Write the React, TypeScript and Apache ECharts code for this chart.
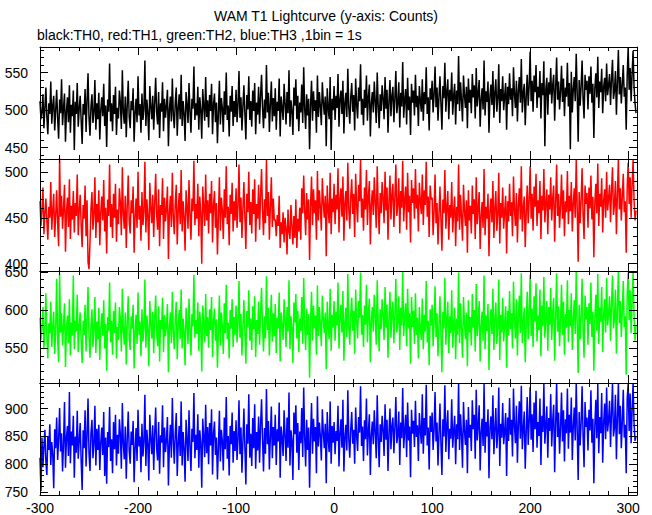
import React, { useEffect, useRef } from "react";
import * as echarts from "echarts";

// Bin start time (s) of the first bin; 1 bin = 1 s
const START_TIME = -300;

// TH0 (black) counts per bin
const TH0 = [
  512,488,497,521,476,503,530,491,468,509,495,538,482,506,519,473,500,527,489,462,
  514,496,541,480,503,522,458,499,517,484,533,470,507,492,526,447,511,495,536,478,
  502,519,486,455,508,494,528,471,513,549,490,466,505,521,483,497,540,474,509,488,
  523,461,500,517,492,535,479,506,451,514,498,562,485,509,472,520,495,531,467,503,
  489,526,510,475,553,497,482,518,464,507,539,491,476,512,500,529,458,496,515,484,
  545,493,508,470,522,487,501,566,479,514,496,460,532,505,488,519,474,510,543,497,
  481,524,463,509,498,537,472,515,490,506,527,452,501,518,485,542,494,476,511,530,
  466,503,521,488,547,479,512,495,459,524,507,483,536,498,470,515,502,558,487,509,
  493,531,474,517,500,462,528,505,486,544,491,513,477,520,499,535,468,508,522,484,
  510,456,497,539,481,516,503,471,525,494,550,487,506,465,519,498,532,479,512,491,
  527,484,508,552,490,517,473,505,533,496,461,520,501,545,487,512,478,526,499,536,
  468,510,494,531,482,519,547,503,476,514,489,560,497,523,471,508,538,485,516,492,
  529,474,511,499,542,465,518,503,487,535,509,481,524,496,553,478,513,500,467,530,
  506,541,488,519,472,510,497,534,483,557,502,475,521,493,515,448,507,539,486,525,
  499,513,470,546,491,524,505,480,537,511,494,518,452,529,503,488,544,447,515,500,
  532,487,519,503,548,478,514,526,495,539,469,510,523,491,555,504,482,517,536,498,
  520,473,542,507,489,530,512,561,494,515,480,527,503,546,486,518,534,465,509,524,
  497,538,511,483,550,506,476,521,499,533,515,488,544,502,527,470,512,540,492,519,
  531,484,516,552,496,509,537,477,523,505,564,490,514,528,481,543,500,518,467,535,
  510,526,493,547,504,519,479,532,512,498,541,486,524,508,557,495,517,473,529,514,
  539,497,521,558,504,530,486,517,545,509,474,532,516,563,498,524,541,488,527,512,
  550,494,519,535,481,526,508,572,499,537,513,485,546,520,503,531,476,542,510,527,
  496,548,517,533,489,556,505,522,540,478,514,529,501,566,493,525,511,538,470,519,
  534,507,552,490,523,541,498,516,561,483,528,512,545,500,519,536,474,531,508,549,
  514,529,492,557,521,503,539,485,526,544,510,568,497,523,535,480,518,547,506,532,
  578,512,539,498,546,524,560,503,531,517,552,489,536,520,565,452,528,543,494,537,
  521,556,509,533,547,486,529,570,514,538,501,525,559,511,542,492,530,518,563,505,
  536,448,551,497,528,544,512,575,523,458,540,506,532,566,515,489,547,527,539,501,
  545,522,558,510,535,463,529,549,517,571,503,538,524,555,496,531,543,512,562,520,
  533,548,507,541,567,515,526,552,494,537,580,521,544,509,535,560,518,530,474,546,
  583,527,556,512,548,579,531,509,496,
];

// TH1 (red) counts per bin
const TH1 = [
  468,441,459,483,432,455,471,447,426,462,450,489,437,458,476,429,453,480,444,419,
  515,451,474,438,460,486,413,457,472,440,492,427,463,448,479,434,466,452,497,431,
  458,475,442,418,464,449,485,430,469,402,394,423,460,478,437,454,494,428,465,445,
  480,420,456,473,447,491,435,461,411,470,452,508,440,465,428,476,450,487,424,459,
  443,482,466,431,505,454,438,474,417,463,496,446,433,469,455,484,412,451,471,439,
  500,448,463,425,478,442,457,511,434,470,452,415,488,461,444,475,429,466,498,453,
  437,481,419,464,453,493,427,472,446,460,484,405,456,474,440,499,450,432,467,486,
  421,458,477,443,502,435,468,451,414,480,462,438,491,454,426,471,457,512,442,465,
  449,487,430,473,455,400,484,461,441,497,447,469,433,476,455,490,423,464,479,439,
  466,410,452,494,436,472,458,427,481,450,506,443,462,420,475,454,488,435,468,447,
  482,439,463,508,445,472,428,460,489,451,416,476,456,500,442,467,433,481,454,492,
  424,465,449,486,437,474,503,458,431,470,444,513,452,478,426,463,494,440,471,447,
  448,430,453,441,474,417,445,432,456,423,450,438,410,459,435,427,464,442,421,452,
  428,470,417,449,435,461,426,482,455,496,458,431,477,448,470,404,463,495,442,481,
  455,469,426,501,447,480,461,436,493,467,450,474,408,485,459,444,499,432,471,456,
  487,443,475,459,504,434,470,482,451,495,425,466,479,447,510,460,438,473,492,454,
  476,429,498,463,445,486,468,514,450,471,436,483,459,502,442,474,490,421,465,480,
  453,494,467,439,506,462,432,477,455,489,471,444,500,458,483,426,468,496,448,475,
  487,440,472,508,452,465,493,433,479,461,512,446,470,484,437,499,456,474,423,491,
  466,482,449,503,460,475,435,488,468,454,497,442,480,464,511,451,473,429,485,470,
  472,431,458,497,444,466,421,453,484,448,414,470,455,502,438,461,479,426,464,450,
  489,434,457,473,419,462,446,508,437,475,451,425,486,458,441,469,412,480,447,463,
  433,485,454,470,427,494,443,460,478,416,452,467,439,503,431,462,449,476,408,457,
  471,445,490,428,461,479,436,454,499,422,466,450,483,438,457,474,411,468,446,487,
  452,467,430,495,459,441,477,423,464,482,448,506,435,461,473,418,456,485,444,470,
  506,449,476,436,484,462,498,441,469,455,490,427,474,458,503,445,466,481,432,475,
  459,494,447,471,485,424,467,508,452,476,439,463,497,449,480,430,468,456,501,443,
  474,457,489,435,466,482,450,513,461,402,478,444,470,504,453,427,485,465,477,439,
  483,460,496,448,473,407,467,487,455,509,441,476,462,493,434,469,481,450,500,458,
  471,486,445,479,505,453,464,490,432,475,514,459,482,447,473,498,456,468,412,484,
  510,465,494,450,486,513,469,447,458,
];

// TH2 (green) counts per bin
const TH2 = [
  590,561,578,604,549,575,622,566,537,583,570,611,552,579,598,543,573,641,563,532,
  648,571,596,554,580,609,526,577,593,557,614,541,584,567,645,549,586,572,620,545,
  579,597,560,531,586,568,607,546,590,630,565,538,581,601,552,575,617,544,585,562,
  603,535,576,596,567,613,550,582,521,591,573,636,558,586,542,599,570,610,537,578,
  561,604,588,546,628,574,555,597,529,584,618,565,548,592,576,607,524,571,594,556,
  623,568,585,540,601,559,577,640,551,593,574,527,612,583,563,598,544,589,619,572,
  553,605,533,587,575,616,545,594,566,581,608,519,578,597,557,624,571,549,590,611,
  536,580,600,562,627,550,589,572,528,603,584,556,615,576,541,595,579,646,564,587,
  569,610,547,598,577,520,606,582,558,621,566,591,551,601,574,617,539,586,602,560,
  588,525,573,619,554,597,580,543,609,570,633,562,584,537,600,576,614,552,591,568,
  606,558,583,638,564,595,541,579,613,571,530,599,577,626,560,589,548,605,575,618,
  539,587,569,611,555,598,629,580,546,592,563,644,574,603,541,584,620,559,596,566,
  608,544,590,576,623,533,597,581,561,614,586,552,604,572,639,549,592,578,531,610,
  584,621,563,599,545,589,573,617,556,642,579,548,602,568,595,512,585,624,560,606,
  576,593,542,632,566,604,581,553,619,588,570,597,523,611,579,562,628,547,594,577,
  612,560,598,580,636,550,591,607,571,625,534,584,603,565,647,578,555,595,616,573,
  599,543,627,585,563,612,590,649,568,594,552,606,581,633,558,597,615,532,586,604,
  572,620,591,555,639,583,546,601,575,614,593,561,630,577,607,538,589,624,564,598,
  611,557,595,641,571,585,618,548,603,580,650,566,592,609,553,628,576,596,530,617,
  578,599,556,622,568,590,537,604,575,561,615,549,594,572,638,558,586,528,601,580,
  607,553,584,631,565,596,540,579,618,567,519,598,576,642,555,587,611,544,592,570,
  626,551,581,603,536,589,568,649,557,609,574,538,617,583,562,597,527,613,571,591,
  554,621,577,600,546,634,566,586,612,533,579,598,560,645,549,593,573,608,522,582,
  601,569,628,548,587,610,556,578,640,535,594,571,616,559,583,605,525,599,567,625,
  575,596,550,637,588,563,614,541,592,619,570,648,557,585,603,532,580,624,562,597,
  646,566,602,552,618,585,635,559,593,574,627,540,606,579,643,564,589,612,547,604,
  581,629,561,597,616,534,590,648,572,605,553,586,633,568,611,542,595,577,639,558,
  600,579,622,548,587,613,569,650,583,518,607,562,594,641,574,538,619,588,604,555,
  609,582,636,565,598,521,590,620,573,647,556,603,585,630,545,594,614,571,642,580,
  596,618,560,608,645,576,589,627,543,601,651,583,612,565,599,638,578,592,516,620,
  649,587,626,570,611,650,593,560,580,
];

// TH3 (blue) counts per bin
const TH3 = [
  812,752,848,795,833,862,804,781,851,826,872,799,840,818,757,863,829,884,808,845,
  901,823,856,787,838,912,794,847,869,815,930,802,859,834,887,776,850,821,896,810,
  843,874,805,754,861,829,897,796,852,918,820,788,857,880,811,836,905,798,864,826,
  871,790,839,866,817,894,779,848,765,858,831,903,806,845,784,876,827,889,798,853,
  819,881,854,792,910,837,809,868,774,846,895,824,801,859,835,878,768,829,865,806,
  898,832,850,786,873,814,841,925,797,862,836,771,889,847,818,870,790,855,902,828,
  807,876,783,852,839,906,795,866,822,844,885,762,835,871,812,919,843,801,857,892,
  779,837,869,815,913,798,858,829,769,880,845,806,897,833,788,864,840,928,811,853,
  826,890,794,861,838,758,882,849,813,907,820,867,800,874,834,899,782,856,877,817,
  848,773,831,896,805,862,842,789,884,827,921,810,851,780,869,836,893,803,860,824,
  879,808,846,915,818,866,785,840,900,831,764,872,837,926,812,855,797,883,829,908,
  792,858,825,886,803,870,917,844,787,865,819,935,836,878,791,850,904,811,867,834,
  889,799,863,841,911,776,868,847,815,897,852,806,884,830,929,798,861,843,772,893,
  854,906,821,874,790,859,838,901,813,938,849,796,880,826,866,758,853,910,819,882,
  841,867,784,922,832,875,851,807,899,858,829,873,766,894,845,822,913,801,869,839,
  876,818,860,842,905,796,855,881,830,916,787,848,871,825,933,846,812,864,894,837,
  862,801,902,851,824,885,857,940,833,868,806,879,845,918,816,860,890,781,853,877,
  836,897,858,811,924,849,795,872,840,887,861,815,908,844,880,788,857,900,827,869,
  884,820,866,921,838,852,895,799,875,847,937,829,860,889,813,911,843,868,777,898,
  855,878,831,914,849,870,806,892,861,837,926,819,883,852,943,834,866,791,887,858,
  893,826,862,930,841,875,798,855,909,838,781,881,850,942,822,869,897,809,864,846,
  917,830,859,887,800,872,845,945,826,890,853,794,912,861,835,880,784,903,848,871,
  824,915,863,889,810,934,843,870,906,789,857,882,833,944,821,876,850,899,775,866,
  886,845,924,818,862,901,829,856,938,797,873,848,910,836,860,892,779,884,842,919,
  853,880,814,936,869,838,905,803,874,913,846,941,827,864,895,792,858,921,835,877,
  939,844,890,822,911,863,932,830,876,851,918,799,887,858,944,837,869,904,812,883,
  860,926,832,878,907,786,871,945,849,893,819,866,929,841,897,805,881,856,936,828,
  889,857,920,808,868,902,843,946,862,772,894,834,876,940,852,795,912,867,884,825,
  898,861,933,839,882,766,870,916,847,944,820,885,856,928,803,874,909,845,938,859,
  879,914,831,892,945,850,866,925,809,883,946,854,905,829,877,934,848,871,784,918,
  944,860,927,838,896,946,874,842,851,
];

// Axis ranges and tick labels
const X_MIN = -300;
const X_MAX = 309;
const X_TICKS = [-300, -200, -100, 0, 100, 200, 300];
const Y_RANGES = [
  [435, 584],
  [392, 514],
  [505, 651],
  [745, 946],
];
const Y_TICKS = [
  [450, 500, 550],
  [400, 450, 500],
  [550, 600, 650],
  [750, 800, 850, 900],
];
const SERIES_NAMES = ["TH0", "TH1", "TH2", "TH3"];
const SERIES_DATA = [TH0, TH1, TH2, TH3];
const COLORS = ["#000000", "#ff0000", "#00ff00", "#0000ff"];

const TITLE = "WAM T1 Lightcurve (y-axis: Counts)";
const SUBTITLE = "black:TH0, red:TH1, green:TH2, blue:TH3 ,1bin = 1s";

const FONT = "'Liberation Sans', Arial, Helvetica, sans-serif";

function minorValues(min: number, max: number, step: number, majors: number[]) {
  const out: number[] = [];
  const start = Math.ceil(min / step) * step;
  for (let v = start; v <= max; v += step) {
    if (!majors.includes(v)) out.push(v);
  }
  return out;
}

export default function App() {
  const ref = useRef<HTMLDivElement>(null);

  useEffect(() => {
    document.body.style.margin = "0";
    if (!ref.current) return;
    const chart = echarts.init(ref.current, undefined, { renderer: "svg" });

    const left = 40;
    const width = 597;
    const top0 = 47;
    const h = 112;

    const grids: any[] = [];
    const xAxes: any[] = [];
    const yAxes: any[] = [];
    const series: any[] = [];

    const xMinor = minorValues(X_MIN, X_MAX, 20, X_TICKS);
    const black = { color: "#000000", width: 1 };

    for (let k = 0; k < 4; k++) {
      grids.push({ left, width, top: top0 + k * h, height: h, show: false });
      const [ymin, ymax] = Y_RANGES[k];
      const yMinor = minorValues(ymin, ymax, 10, Y_TICKS[k]);

      const xBase = (position: string, major: boolean, showLine: boolean, showLabel: boolean) => ({
        type: "value",
        gridIndex: k,
        position,
        min: X_MIN,
        max: X_MAX,
        axisLine: { show: showLine, onZero: false, lineStyle: black },
        axisTick: {
          show: true,
          inside: true,
          length: major ? 8 : 4,
          customValues: major ? X_TICKS : xMinor,
          lineStyle: black,
        },
        axisLabel: {
          show: showLabel,
          customValues: X_TICKS,
          color: "#000",
          fontSize: 14,
          fontFamily: FONT,
          margin: 6,
          showMinLabel: true,
          showMaxLabel: true,
        },
        splitLine: { show: false },
        minorTick: { show: false },
        z: 5,
      });
      xAxes.push(xBase("bottom", true, true, k === 3));
      xAxes.push(xBase("bottom", false, false, false));
      xAxes.push(xBase("top", true, true, false));
      xAxes.push(xBase("top", false, false, false));

      const yBase = (position: string, major: boolean, showLine: boolean, showLabel: boolean) => ({
        type: "value",
        gridIndex: k,
        position,
        min: ymin,
        max: ymax,
        axisLine: { show: showLine, onZero: false, lineStyle: black },
        axisTick: {
          show: true,
          inside: true,
          length: major ? 8 : 4,
          customValues: major ? Y_TICKS[k] : yMinor,
          lineStyle: black,
        },
        axisLabel: {
          show: showLabel,
          customValues: Y_TICKS[k],
          color: "#000",
          fontSize: 14,
          fontFamily: FONT,
          margin: 12,
          showMinLabel: true,
          showMaxLabel: true,
        },
        splitLine: { show: false },
        minorTick: { show: false },
        z: 5,
      });
      yAxes.push(yBase("left", true, true, true));
      yAxes.push(yBase("left", false, false, false));
      yAxes.push(yBase("right", true, true, false));
      yAxes.push(yBase("right", false, false, false));

      const d = SERIES_DATA[k];
      series.push({
        name: SERIES_NAMES[k],
        type: "line",
        xAxisIndex: k * 4,
        yAxisIndex: k * 4,
        data: d.map((v, i) => [START_TIME + i, v]),
        showSymbol: false,
        symbol: "none",
        lineStyle: { width: 1.5, color: COLORS[k] },
        itemStyle: { color: COLORS[k] },
        clip: true,
        silent: true,
        z: 1,
      });
    }

    chart.setOption({
      animation: false,
      backgroundColor: "#ffffff",
      title: [
        {
          text: TITLE,
          left: "center",
          top: 9,
          padding: 0,
          textStyle: { fontSize: 14, fontWeight: "normal", color: "#000", fontFamily: FONT },
        },
        {
          text: SUBTITLE,
          left: 37,
          top: 28,
          padding: 0,
          textStyle: { fontSize: 14, fontWeight: "normal", color: "#000", fontFamily: FONT },
        },
      ],
      grid: grids,
      xAxis: xAxes,
      yAxis: yAxes,
      series,
    });

    return () => chart.dispose();
  }, []);

  return <div ref={ref} style={{ width: 652, height: 515 }} />;
}
